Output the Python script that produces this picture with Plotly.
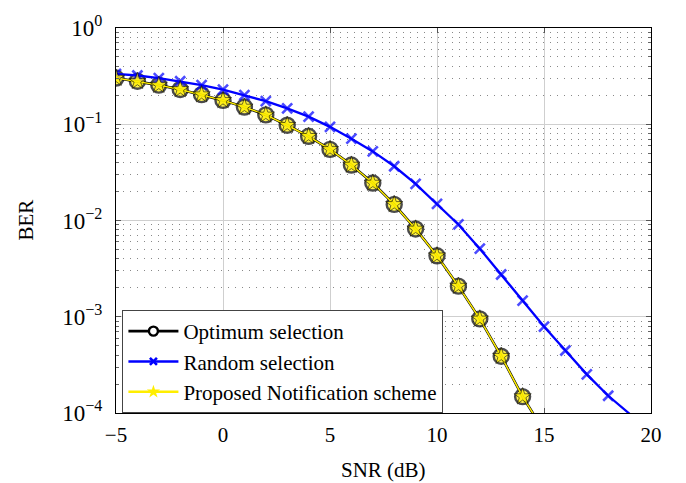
import plotly.graph_objects as go

snr_opt = list(range(-5, 16))
ber_opt = [0.302, 0.280, 0.255, 0.230, 0.203, 0.177, 0.151, 0.125, 0.0977, 0.0750,
           0.0548, 0.0377, 0.0245, 0.0147, 0.00817, 0.00430, 0.00208, 0.00095,
           0.000389, 0.000148, 0.000065]

snr_rand = list(range(-5, 20))
ber_rand = [0.333, 0.321, 0.302, 0.280, 0.255, 0.229, 0.201, 0.174, 0.146, 0.120,
            0.094, 0.0708, 0.0522, 0.0366, 0.0240, 0.0149, 0.0091, 0.0051, 0.00275,
            0.00147, 0.00079, 0.000446, 0.000252, 0.000151, 0.000098]

decades = [-4, -3, -2, -1, 0]
y_tickvals = [10.0 ** d for d in decades]
y_ticktext = ["10<sup>%s</sup>" % (str(d).replace("-", "\u2212")) for d in decades]
y_minorvals = [m * 10.0 ** d for d in decades[:-1] for m in range(2, 10)]

ymin = 1e-4

def sizes(vals, s):
    return [s if v >= ymin else 0 for v in vals]

FONT = "Liberation Serif"
BLUE = "#0000ff"
YEL = "#ffee00"

fig = go.Figure()
# plotted curves
fig.add_trace(go.Scatter(
    x=snr_opt, y=ber_opt, mode="lines+markers", showlegend=False,
    line=dict(color="black", width=2.6),
    marker=dict(symbol="circle", size=sizes(ber_opt, 15), color=YEL,
                line=dict(color="black", width=2.4)),
))
fig.add_trace(go.Scatter(
    x=snr_rand, y=ber_rand, mode="lines+markers", showlegend=False,
    line=dict(color=BLUE, width=2.3),
    marker=dict(symbol="x-thin", size=sizes(ber_rand, 10), color=BLUE,
                line=dict(color=BLUE, width=2.6)),
))
fig.add_trace(go.Scatter(
    x=snr_opt, y=ber_opt, mode="lines+markers", showlegend=False,
    line=dict(color=YEL, width=1.5),
    marker=dict(symbol="star", size=sizes(ber_opt, 13), color=YEL,
                line=dict(color="black", width=0.8)),
))
# legend entries
fig.add_trace(go.Scatter(
    x=[None], y=[None], name="Optimum selection", mode="lines+markers",
    line=dict(color="black", width=2.6),
    marker=dict(symbol="circle", size=9, color="white",
                line=dict(color="black", width=2.4)),
))
fig.add_trace(go.Scatter(
    x=[None], y=[None], name="Random selection", mode="lines+markers",
    line=dict(color=BLUE, width=2.6),
    marker=dict(symbol="x-thin", size=7, color=BLUE,
                line=dict(color=BLUE, width=2.6)),
))
fig.add_trace(go.Scatter(
    x=[None], y=[None], name="Proposed Notification scheme", mode="lines+markers",
    line=dict(color=YEL, width=2.6),
    marker=dict(symbol="star", size=10, color=YEL,
                line=dict(color=YEL, width=0)),
))

fig.update_layout(
    width=686, height=483,
    margin=dict(l=116, r=35, t=13, b=70),
    paper_bgcolor="white", plot_bgcolor="white",
    font=dict(family=FONT, size=19, color="black"),
    showlegend=True,
    legend=dict(x=0.012, y=0.0, xanchor="left", yanchor="bottom",
                bgcolor="white", bordercolor="#444", borderwidth=1,
                font=dict(family=FONT, size=21), tracegroupgap=0,
                itemwidth=50),
    annotations=[
        dict(text="SNR (dB)", xref="paper", yref="paper", x=0.5, y=-0.1475,
             xanchor="center", yanchor="middle", showarrow=False,
             font=dict(family=FONT, size=21)),
        dict(text="BER", xref="paper", yref="paper", x=-0.170, y=0.5,
             xanchor="center", yanchor="middle", showarrow=False, textangle=-90,
             font=dict(family=FONT, size=21)),
    ],
)
fig.update_xaxes(
    range=[-5, 20], dtick=5, tick0=-5,
    showline=True, linecolor="black", linewidth=1.2, mirror="ticks",
    ticks="inside", ticklen=5, tickcolor="#555",
    showgrid=True, gridcolor="#cfcfcf", gridwidth=1, zeroline=False,
    ticklabelstandoff=3, tickfont=dict(family=FONT, size=21),
)
fig.update_yaxes(
    type="log", range=[-4, 0], tickmode="array",
    tickvals=y_tickvals, ticktext=y_ticktext, ticklabeloverflow="allow",
    showline=True, linecolor="black", linewidth=1.2, mirror="ticks",
    ticks="inside", ticklen=5, tickcolor="#555",
    showgrid=True, gridcolor="#cfcfcf", gridwidth=1, zeroline=False,
    ticklabelstandoff=8, tickfont=dict(family=FONT, size=23),
    minor=dict(tickmode="array", tickvals=y_minorvals,
               ticks="inside", ticklen=3, tickcolor="#666", showgrid=True,
               griddash="1px,6px", gridcolor="#888", gridwidth=1),
)

fig.write_html("out.html")
